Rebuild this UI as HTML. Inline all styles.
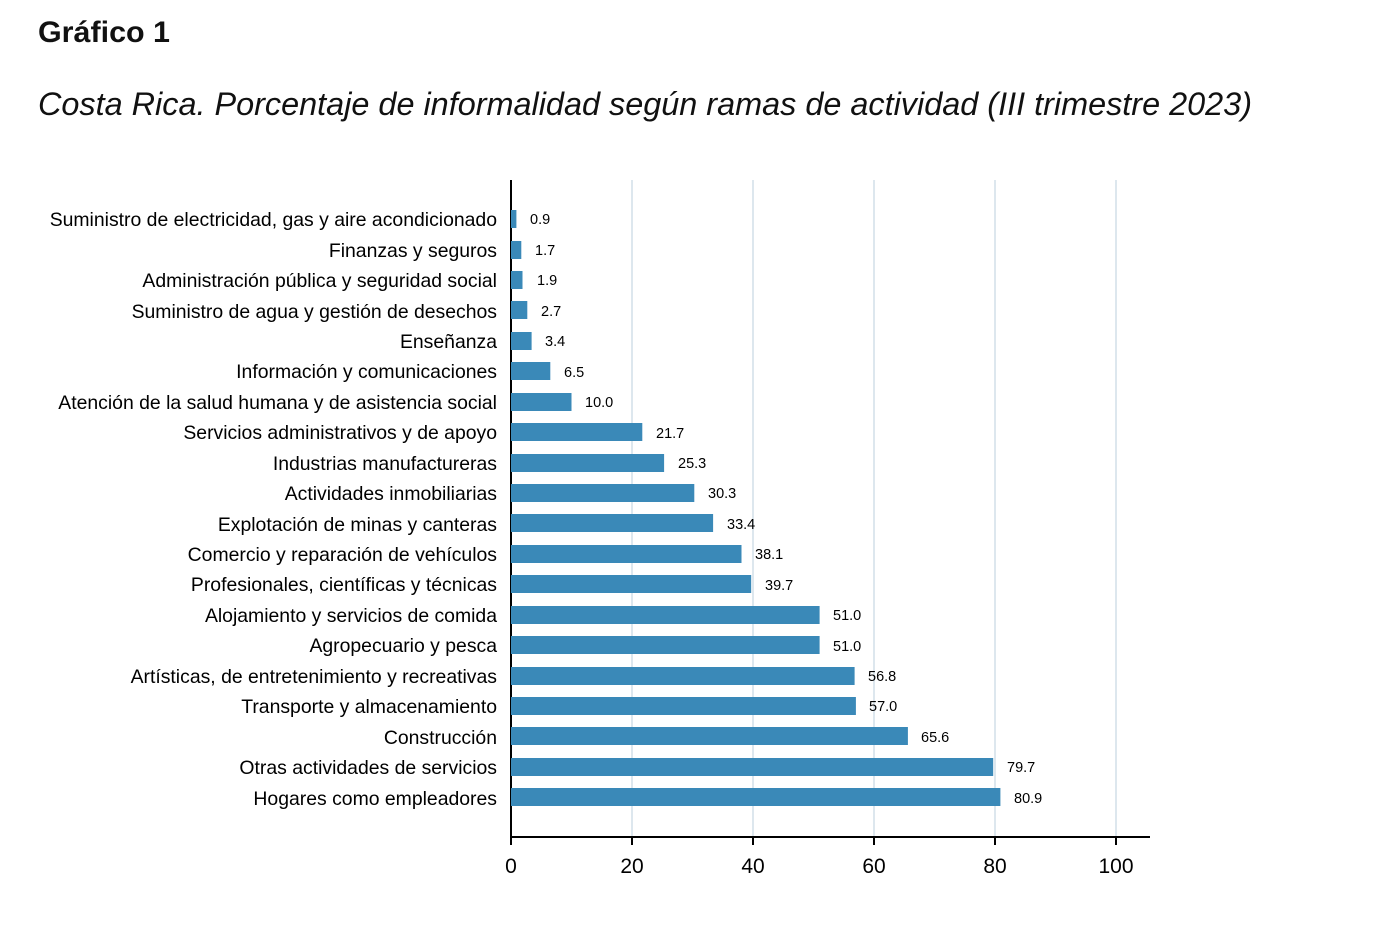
<!DOCTYPE html>
<html><head><meta charset="utf-8"><style>
html,body{margin:0;padding:0;background:#fff;}
svg{display:block;}
</style></head><body>
<svg width="1398" height="950" xmlns="http://www.w3.org/2000/svg" font-family="Liberation Sans, Arial, sans-serif">
<rect width="1398" height="950" fill="#fff"/>
<text x="38" y="42" font-size="30" font-weight="bold" fill="#111" textLength="132" lengthAdjust="spacingAndGlyphs">Gráfico 1</text>
<text x="38" y="115" font-size="32" font-style="italic" fill="#111" textLength="1214" lengthAdjust="spacingAndGlyphs">Costa Rica. Porcentaje de informalidad según ramas de actividad (III trimestre 2023)</text>
<g stroke="#dde7ee" stroke-width="2">
<line x1="632" y1="180" x2="632" y2="837"/><line x1="753" y1="180" x2="753" y2="837"/>
<line x1="874" y1="180" x2="874" y2="837"/><line x1="995" y1="180" x2="995" y2="837"/>
<line x1="1116" y1="180" x2="1116" y2="837"/>
</g>
<g stroke="#000" stroke-width="2">
<line x1="511" y1="180" x2="511" y2="838"/>
<line x1="510" y1="837" x2="1150" y2="837"/>
<line x1="511" y1="837" x2="511" y2="845"/><line x1="632" y1="837" x2="632" y2="845"/>
<line x1="753" y1="837" x2="753" y2="845"/><line x1="874" y1="837" x2="874" y2="845"/>
<line x1="995" y1="837" x2="995" y2="845"/><line x1="1116" y1="837" x2="1116" y2="845"/>
</g>
<g font-size="21" text-anchor="middle" fill="#000">
<text x="511" y="873">0</text><text x="632" y="873">20</text><text x="753" y="873">40</text>
<text x="874" y="873">60</text><text x="995" y="873">80</text><text x="1116" y="873">100</text>
</g>
<g fill="#3a89b8">
<rect x="511" y="210" width="5.4" height="18"/>
<rect x="511" y="241" width="10.3" height="18"/>
<rect x="511" y="271" width="11.5" height="18"/>
<rect x="511" y="301" width="16.3" height="18"/>
<rect x="511" y="332" width="20.6" height="18"/>
<rect x="511" y="362" width="39.3" height="18"/>
<rect x="511" y="393" width="60.5" height="18"/>
<rect x="511" y="423" width="131.3" height="18"/>
<rect x="511" y="454" width="153.1" height="18"/>
<rect x="511" y="484" width="183.3" height="18"/>
<rect x="511" y="514" width="202.1" height="18"/>
<rect x="511" y="545" width="230.5" height="18"/>
<rect x="511" y="575" width="240.2" height="18"/>
<rect x="511" y="606" width="308.6" height="18"/>
<rect x="511" y="636" width="308.6" height="18"/>
<rect x="511" y="667" width="343.6" height="18"/>
<rect x="511" y="697" width="344.9" height="18"/>
<rect x="511" y="727" width="396.9" height="18"/>
<rect x="511" y="758" width="482.2" height="18"/>
<rect x="511" y="788" width="489.4" height="18"/>
</g>
<g font-size="14.5" fill="#000">
<text x="530" y="224">0.9</text><text x="535" y="255">1.7</text><text x="537" y="285">1.9</text>
<text x="541" y="316">2.7</text><text x="545" y="346">3.4</text><text x="564" y="377">6.5</text>
<text x="585" y="407">10.0</text><text x="656" y="438">21.7</text><text x="678" y="468">25.3</text>
<text x="708" y="498">30.3</text><text x="727" y="529">33.4</text><text x="755" y="559">38.1</text>
<text x="765" y="590">39.7</text><text x="833" y="620">51.0</text><text x="833" y="651">51.0</text>
<text x="868" y="681">56.8</text><text x="869" y="711">57.0</text><text x="921" y="742">65.6</text>
<text x="1007" y="772">79.7</text><text x="1014" y="803">80.9</text>
</g>
<g font-size="19.4" text-anchor="end" fill="#000">
<text x="497" y="226">Suministro de electricidad, gas y aire acondicionado</text>
<text x="497" y="257">Finanzas y seguros</text>
<text x="497" y="287">Administración pública y seguridad social</text>
<text x="497" y="318">Suministro de agua y gestión de desechos</text>
<text x="497" y="348">Enseñanza</text>
<text x="497" y="378">Información y comunicaciones</text>
<text x="497" y="409">Atención de la salud humana y de asistencia social</text>
<text x="497" y="439">Servicios administrativos y de apoyo</text>
<text x="497" y="470">Industrias manufactureras</text>
<text x="497" y="500">Actividades inmobiliarias</text>
<text x="497" y="531">Explotación de minas y canteras</text>
<text x="497" y="561">Comercio y reparación de vehículos</text>
<text x="497" y="591">Profesionales, científicas y técnicas</text>
<text x="497" y="622">Alojamiento y servicios de comida</text>
<text x="497" y="652">Agropecuario y pesca</text>
<text x="497" y="683">Artísticas, de entretenimiento y recreativas</text>
<text x="497" y="713">Transporte y almacenamiento</text>
<text x="497" y="744">Construcción</text>
<text x="497" y="774">Otras actividades de servicios</text>
<text x="497" y="805">Hogares como empleadores</text>
</g>
</svg>
</body></html>
